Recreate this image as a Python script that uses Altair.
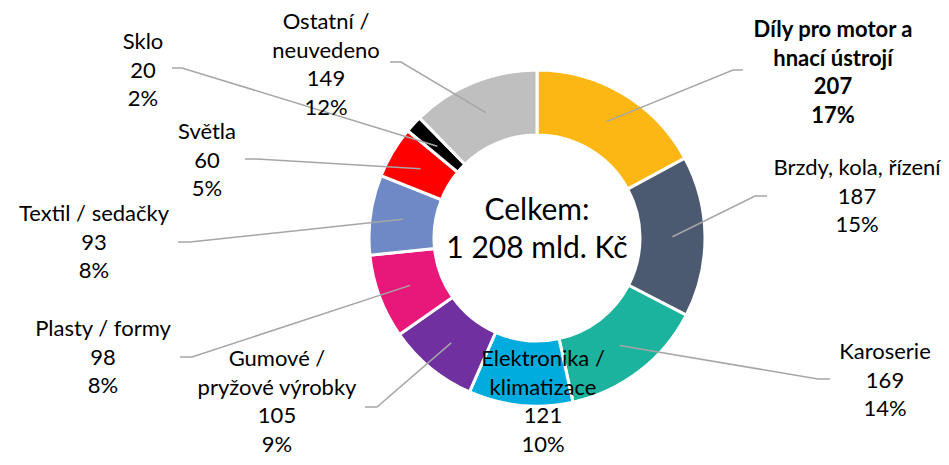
import math
import altair as alt
import pandas as pd

# ---------------- data ----------------
categories = [
    "Díly pro motor a\nhnací ústrojí",
    "Brzdy, kola, řízení",
    "Karoserie",
    "Elektronika /\nklimatizace",
    "Gumové /\npryžové výrobky",
    "Plasty / formy",
    "Textil / sedačky",
    "Světla",
    "Sklo",
    "Ostatní /\nneuvedeno",
]
values = [207, 187, 169, 121, 105, 98, 93, 60, 20, 149]
total_title = "Celkem:"
total_text = "1 208 mld. Kč"

# ---------------- styles / layout ----------------
colors = ["#FDB714", "#4B5A70", "#1BB39E", "#00ABDD", "#7030A0",
          "#E8187A", "#6F89C6", "#FF0000", "#000000", "#BFBFBF"]
FONT = "Lato"
W, H = 933, 449            # whole chart (page 949x465 minus 8px margins)
CX, CY = 529, 230          # donut centre inside the chart
R_OUT, R_IN = 168, 103
R_MID = (R_OUT + R_IN) / 2
LINE_H = 28.5
LABEL_SIZE = 22

def px(X, Y):
    """reference-page pixel -> chart data coordinates (origin at donut centre, y up)"""
    return X - 8 - CX, CY - (Y - 8)

# label placement: (centre x, first-line y, leader end, leader elbow) in page pixels
label_layout = [
    (833, 30, (743, 70), (733, 70)),
    (857, 168, (767, 196), (755, 196)),
    (885, 352, (830, 379), (818, 379)),
    (543, 359, None, None),
    (277, 359, (365, 407), (377, 407)),
    (103, 329, (180, 357), (192, 357)),
    (94, 214, (178, 242), (190, 242)),
    (207, 132, (245, 159), (257, 159)),
    (143, 42, (172, 68), (182, 68)),
    (326, 22, (390, 62), (401, 62)),
]

total = sum(values)
xscale = alt.Scale(domain=[-CX, W - CX], nice=False, zero=False)
yscale = alt.Scale(domain=[-(H - CY), CY], nice=False, zero=False)

# ---------------- arcs ----------------
arc_df = pd.DataFrame({
    "cat": categories, "value": values, "idx": list(range(len(values))),
    "cx": 0, "cy": 0,
})
arcs = alt.Chart(arc_df).mark_arc(
    radius=R_OUT, radius2=R_IN, stroke="white", strokeWidth=3
).encode(
    theta=alt.Theta("value:Q", stack=True),
    order=alt.Order("idx:Q"),
    color=alt.Color("cat:N", scale=alt.Scale(domain=categories, range=colors), legend=None),
    x=alt.X("cx:Q", scale=xscale, axis=None),
    y=alt.Y("cy:Q", scale=yscale, axis=None),
)

# ---------------- leader lines ----------------
rows = []
cum = 0
for i, v in enumerate(values):
    ang = 2 * math.pi * (cum + v / 2) / total
    cum += v
    _, _, end, elbow = label_layout[i]
    if end is None:
        continue
    sx, sy = R_MID * math.sin(ang), R_MID * math.cos(ang)
    ex, ey = px(*elbow)
    tx, ty = px(*end)
    rows += [
        {"cat": i, "seq": 0, "x": sx, "y": sy},
        {"cat": i, "seq": 1, "x": ex, "y": ey},
        {"cat": i, "seq": 2, "x": tx, "y": ty},
    ]
lead_df = pd.DataFrame(rows)
leaders = alt.Chart(lead_df).mark_line(color="#A6A6A6", strokeWidth=1.5).encode(
    x=alt.X("x:Q", scale=xscale, axis=None),
    y=alt.Y("y:Q", scale=yscale, axis=None),
    detail="cat:N",
    order="seq:Q",
)

# ---------------- labels ----------------
trows = []
for i, (name, v) in enumerate(zip(categories, values)):
    pct = f"{round(v / total * 100)}%"
    lines = name.split("\n") + [str(v), pct]
    cxp, y0, _, _ = label_layout[i]
    for k, ln in enumerate(lines):
        x, y = px(cxp, y0 + k * LINE_H)
        trows.append({"x": x, "y": y, "text": ln, "bold": i == 0})
text_df = pd.DataFrame(trows)
base_text = alt.Chart(text_df).encode(
    x=alt.X("x:Q", scale=xscale, axis=None),
    y=alt.Y("y:Q", scale=yscale, axis=None),
    text="text:N",
)
labels = base_text.mark_text(font=FONT, fontSize=LABEL_SIZE, color="#000000",
                             baseline="middle", align="center").transform_filter("!datum.bold")
labels_bold = base_text.mark_text(font=FONT, fontSize=LABEL_SIZE, fontWeight="bold", color="#000000",
                                  baseline="middle", align="center").transform_filter("datum.bold")

# ---------------- centre text ----------------
cdf = pd.DataFrame({"x": [0, 0], "y": [px(0, 211)[1], px(0, 249)[1]],
                    "text": [total_title, total_text]})
centre = alt.Chart(cdf).mark_text(font=FONT, fontSize=30, color="#000000",
                                  baseline="middle", align="center").encode(
    x=alt.X("x:Q", scale=xscale, axis=None),
    y=alt.Y("y:Q", scale=yscale, axis=None),
    text="text:N",
)

chart = alt.layer(arcs, leaders, labels, labels_bold, centre).properties(
    width=W, height=H, padding=0,
    autosize=alt.AutoSizeParams(type="none"),
).configure_view(stroke=None)

chart.save("out.html", embed_options={"renderer": "svg", "actions": False})
